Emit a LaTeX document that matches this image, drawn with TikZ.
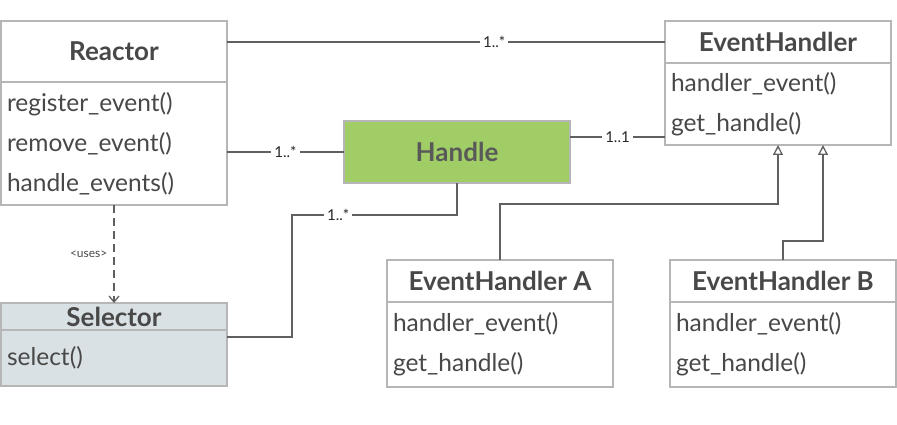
\documentclass[tikz,border=0pt]{standalone}
\usepackage{fontspec}
\setmainfont{Lato}
\usetikzlibrary{calc,arrows.meta}
\definecolor{boxgray}{RGB}{182,182,182}
\definecolor{linegray}{RGB}{96,96,96}
\definecolor{txtgray}{RGB}{72,72,72}
\definecolor{handlegreen}{RGB}{160,205,102}
\definecolor{selfill}{RGB}{217,225,228}
\begin{document}
\begin{tikzpicture}[x=1pt, y=-1pt,
    cls/.style={draw=boxgray, line width=1.3pt, outer sep=0pt, fill=white, minimum width=226pt, inner sep=0pt, text=txtgray, font=\bfseries\fontsize{26}{28}\selectfont},
    ops/.style={draw=boxgray, line width=1.3pt, outer sep=0pt, fill=white, text width=214pt, inner xsep=6pt, inner ysep=0pt, align=left, text=txtgray, font=\fontsize{24.5}{40}\selectfont},
    link/.style={draw=linegray, line width=1.3pt},
    mult/.style={fill=white, inner sep=3pt, text=black!85, font=\fontsize{15}{15}\selectfont},
    inherit/.style={link, -{Triangle[open, length=10pt, width=10pt]}}]
    \useasboundingbox (0,0) rectangle (897,425);
    % Reactor
    \node[cls, minimum height=61pt, anchor=north west](reactor)at(1,21){Reactor};
    \node[ops, minimum height=123pt, anchor=north](reactor-ops)at(reactor.south){register\_event()\\remove\_event()\\handle\_events()};
    % EventHandler
    \node[cls, minimum height=42pt, anchor=north west](ehandler)at(665,21){EventHandler};
    \node[ops, minimum height=82pt, anchor=north](ehandler-ops)at(ehandler.south){handler\_event()\\get\_handle()};
    % Handle
    \node[cls, fill=handlegreen, minimum height=62pt, anchor=north west, text=black!65](handle)at(344,121){Handle};
    % Selector
    \node[cls, fill=selfill, minimum height=27pt, anchor=north west](selector)at(1,303){Selector};
    \node[ops, fill=selfill, minimum height=56pt, anchor=north](selector-ops)at(selector.south){select()};
    % EventHandler A / B
    \node[cls, minimum height=42pt, anchor=north west](eha)at(387,260){EventHandler A};
    \node[ops, minimum height=85pt, anchor=north](eha-ops)at(eha.south){handler\_event()\\get\_handle()};
    \node[cls, minimum height=42pt, anchor=north west](ehb)at(670,260){EventHandler B};
    \node[ops, minimum height=85pt, anchor=north](ehb-ops)at(ehb.south){handler\_event()\\get\_handle()};
    % associations
    \path[link](reactor.east |- ehandler.west)to node[mult, pos=0.61]{1..*}(ehandler.west);
    \path[link](reactor-ops.east |- handle.west)to node[mult]{1..*}(handle.west);
    \path[link]([yshift=15pt]handle.east)coordinate(h1)to node[mult]{1..1}(ehandler-ops.west |- h1);
    % handle to selector
    \coordinate(sel-in)at([yshift=-7pt]selector-ops.north east);
    \path[link](handle.south)--++(0,32)--node[mult, pos=0.72]{1..*}++(-165,0)|-(sel-in);
    % uses
    \path[link, dash pattern=on 8pt off 5pt, -{Straight Barb[length=6pt, width=10pt]}](reactor-ops.south)to node[left, inner sep=6pt, pos=0.5, text=txtgray, font=\fontsize{12}{12}\selectfont]{\textless uses\textgreater}(selector.north);
    % inheritance
    \path[inherit](eha.north)--++(0,-56)-|(ehandler-ops.south);
    \path[inherit](ehb.north)--++(0,-19)-|([xshift=45pt]ehandler-ops.south);
\end{tikzpicture}
\end{document}
